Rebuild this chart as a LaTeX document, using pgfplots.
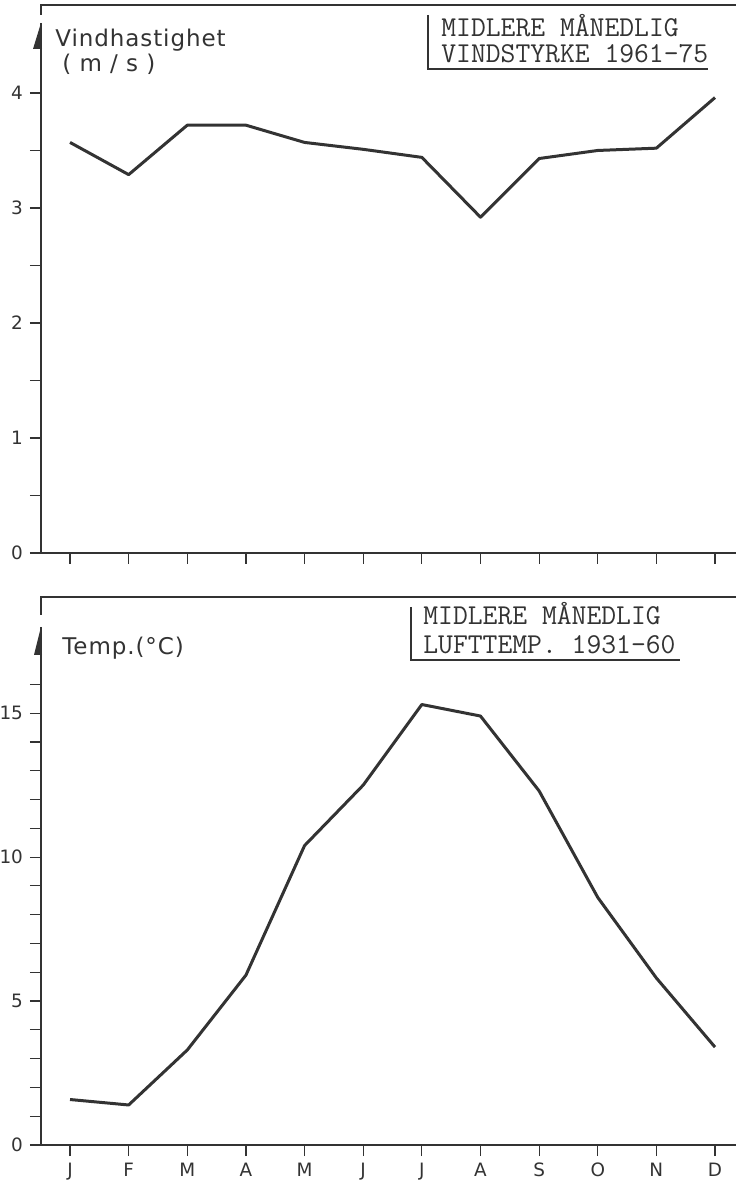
\documentclass[border=0pt]{standalone}
\usepackage{fontspec}
\usepackage{pgfplots}
\pgfplotsset{compat=1.18}
\newfontfamily\lab{DejaVu Sans}
\newfontfamily\labw[LetterSpace=4]{DejaVu Sans}
\definecolor{ink}{HTML}{333333}
\begin{document}
\begin{tikzpicture}
\path[use as bounding box] (0,0) rectangle (368pt,592.5pt);
\pgfplotsset{
  panel/.style={
    scale only axis, width=347.5pt,
    anchor=south west, xmin=0.505, xmax=12.358, ymin=0,
    axis x line*=bottom, axis y line*=left,
    y axis line style={draw=none},
    x axis line style={line width=1pt, color=ink},
    xtick={1,...,12},
    tick align=outside, major tick length=5.5pt, minor tick length=5.5pt,
    every tick/.style={ink, line width=0.6pt},
    tick label style={font=\lab\fontsize{9.2}{10}\selectfont, text=ink},
    /pgf/number format/assume math mode=true,
    clip=false,
  },
}
% ---------- top panel: wind ----------
\begin{axis}[panel, at={(20.5pt,316pt)}, height=274pt, ymax=4.765,
  ytick={0,1,2,3,4}, minor ytick={0.5,1.5,2.5,3.5}, xticklabels={}]
\addplot[ink, line width=1.5pt, line join=round] coordinates {
 (1,3.57) (2,3.29) (3,3.72) (4,3.72) (5,3.57) (6,3.51)
 (7,3.44) (8,2.92) (9,3.43) (10,3.50) (11,3.52) (12,3.96)};
\end{axis}
% ---------- bottom panel: temperature ----------
\begin{axis}[panel, at={(20.5pt,20pt)}, height=273.5pt, ymax=19,
  ytick={0,5,10,15}, minor ytick={1,2,3,4,6,7,8,9,11,12,13,14,16},
  xticklabels={J,F,M,A,M,J,J,A,S,O,N,D}]
\addplot[ink, line width=1.5pt, line join=round] coordinates {
 (1,1.58) (2,1.39) (3,3.3) (4,5.9) (5,10.4) (6,12.5)
 (7,15.3) (8,14.9) (9,12.3) (10,8.6) (11,5.8) (12,3.4)};
\end{axis}
% frames, left axis lines, arrows
\draw[ink, line width=1pt] (20.5pt,316pt) -- (20.5pt,581pt);
\draw[ink, line width=1pt] (20.5pt,585pt) -- (20.5pt,590pt) -- (368pt,590pt);
\fill[ink] (20.5pt,581pt) -- (16.5pt,568pt) -- (21pt,568pt) -- cycle;
\draw[ink, line width=1pt] (20.5pt,20pt) -- (20.5pt,279pt);
\draw[ink, line width=1pt] (20.5pt,285pt) -- (20.5pt,294pt) -- (368pt,294pt);
\fill[ink] (20.5pt,279pt) -- (17pt,265pt) -- (21pt,265pt) -- cycle;
% axis titles
\begin{scope}[every node/.style={anchor=base west, inner sep=0, text=ink, font=\labw\fontsize{11.5}{13}\selectfont}]
\node at (27.5pt,569pt) {Vindhastighet};
\node at (31pt,556.5pt) {( m / s )};
\node at (31pt,265pt) {Temp.(°C)};
\end{scope}
% panel titles
\begin{scope}[every node/.style={anchor=base west, inner sep=0, text=ink, font=\ttfamily\fontsize{14.4}{15}\selectfont}]
\node at (220.5pt,574pt) {MIDLERE MÅNEDLIG};
\node at (220.5pt,561pt) {VINDSTYRKE 1961-75};
\node at (211.5pt,280pt) {MIDLERE MÅNEDLIG};
\node at (211.5pt,265.5pt) {LUFTTEMP. 1931-60};
\end{scope}
\draw[ink, line width=0.6pt] (214pt,585pt) -- (214pt,558pt) -- (354pt,558pt);
\draw[ink, line width=0.6pt] (205.5pt,289pt) -- (205.5pt,262.5pt) -- (340pt,262.5pt);
\end{tikzpicture}
\end{document}
